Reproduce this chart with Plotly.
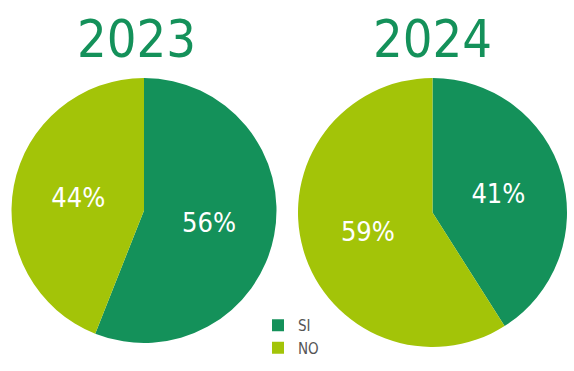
import plotly.graph_objects as go

labels = ["SI", "NO"]
values_2023 = [56, 44]
values_2024 = [41, 59]
years = ["2023", "2024"]
colors = ["#14915A", "#A3C408"]

FONT = "DejaVu Sans Condensed, Liberation Sans Narrow, sans-serif"
W, H = 574, 371

def px_x(a, b):
    return [a / W, b / W]

def px_y(top, bottom):
    return [(H - bottom) / H, (H - top) / H]

fig = go.Figure()
fig.add_trace(go.Pie(
    labels=labels, values=values_2023, sort=False, direction="clockwise", rotation=0,
    marker=dict(colors=colors, line=dict(width=0)),
    textinfo="percent", textposition="inside",
    insidetextfont=dict(color="white", size=27, family=FONT),
    domain=dict(x=px_x(10, 278), y=px_y(78, 343)),
    hoverinfo="label+percent", showlegend=True,
))
fig.add_trace(go.Pie(
    labels=labels, values=values_2024, sort=False, direction="clockwise", rotation=0,
    marker=dict(colors=colors, line=dict(width=0)),
    textinfo="percent", textposition="inside",
    insidetextfont=dict(color="white", size=27, family=FONT),
    domain=dict(x=px_x(297, 568), y=px_y(78, 347)),
    hoverinfo="label+percent", showlegend=False,
))

for yr, cx in zip(years, [136, 432]):
    fig.add_annotation(
        text=yr, x=cx / W, y=(H - 39) / H, xref="paper", yref="paper",
        xanchor="center", yanchor="middle", showarrow=False,
        font=dict(family=FONT, size=52, color="#14915A"),
    )

fig.update_layout(
    width=W, height=H,
    margin=dict(l=0, r=0, t=0, b=0),
    paper_bgcolor="white", plot_bgcolor="white",
    legend=dict(
        x=258 / W, y=(H - 309) / H, xanchor="left", yanchor="top",
        font=dict(family=FONT, size=15, color="#555555"),
        bgcolor="rgba(0,0,0,0)", tracegroupgap=0, itemwidth=30,
    ),
)

fig.write_html(
    "out.html",
    config={"displayModeBar": False},
    post_script="document.body.style.margin='0px';",
)
